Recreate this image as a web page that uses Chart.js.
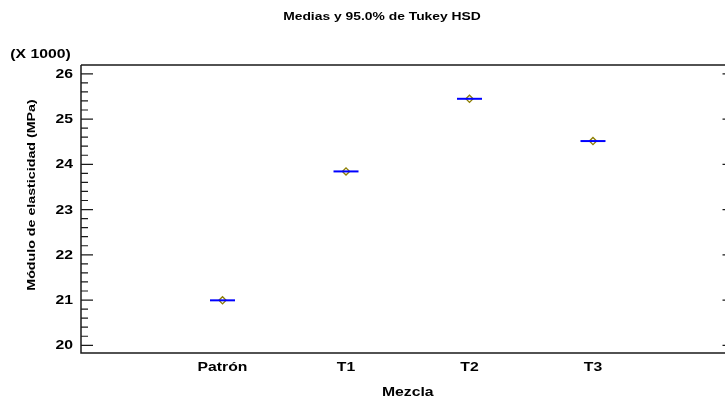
<!DOCTYPE html>
<html>
<head>
<meta charset="utf-8">
<script src="https://cdn.jsdelivr.net/npm/chart.js@4/dist/chart.umd.min.js"></script>
<style>
  html, body { margin: 0; padding: 0; background: #fff; overflow: hidden; }
  #wrap { width: 725px; height: 401px; }
</style>
</head>
<body>
<div id="wrap"><canvas id="graphCanvas" width="725" height="401"></canvas></div>
<script>
// Medias por mezcla (MPa) con intervalos HSD de Tukey al 95%
var mezclas = ['Patrón', 'T1', 'T2', 'T3'];
var medias = [20994, 23843, 25448, 24514];
var yTicks = [20000, 21000, 22000, 23000, 24000, 25000, 26000];

var FAMILIA = '"Liberation Sans", Arial, Helvetica, sans-serif';
var ANCHO = 1.26;   // letra ensanchada, como en el programa original

var puntos = mezclas.map(function (m, i) {
    return { x: i + 1, y: medias[i] };
});

// texto ensanchado horizontalmente (en su propia dirección)
function texto(ctx, s, x, y, size, align, base, rot) {
    ctx.save();
    ctx.translate(x, y);
    if (rot) ctx.rotate(rot);
    ctx.scale(ANCHO, 1);
    ctx.font = 'bold ' + size + 'px ' + FAMILIA;
    ctx.fillStyle = '#000';
    ctx.textAlign = align;
    ctx.textBaseline = base;
    ctx.fillText(s, 0, 0);
    ctx.restore();
}

// marco, marcas de eje y textos
var marco = {
    id: 'marco',
    afterDraw: function (chart) {
        var ctx = chart.ctx;
        var a = chart.chartArea;
        var xs = chart.scales.x;
        var ys = chart.scales.y;
        var right = xs.getPixelForValue(5.146);

        ctx.save();
        ctx.strokeStyle = '#1a1a1a';
        ctx.lineWidth = 1.5;
        ctx.beginPath();
        ctx.moveTo(a.left, a.top);
        ctx.lineTo(a.left, a.bottom);
        ctx.lineTo(a.right, a.bottom);
        ctx.moveTo(a.left, a.top);
        ctx.lineTo(a.right, a.top);
        ctx.stroke();

        ctx.lineWidth = 1.2;
        ctx.beginPath();
        for (var v = 20000; v <= 26000; v += 200) {
            var py = ys.getPixelForValue(v);
            var len = (v % 1000 === 0) ? 12 : 7;
            ctx.moveTo(a.left, py);
            ctx.lineTo(a.left + len, py);
            if (v % 1000 === 0) {
                ctx.moveTo(right - 12, py);
                ctx.lineTo(right, py);
            }
        }
        ctx.stroke();
        ctx.restore();

        // etiquetas de los ejes
        yTicks.forEach(function (v) {
            texto(ctx, String(v / 1000), 73, ys.getPixelForValue(v) + 0.5, 12.5, 'right', 'middle');
        });
        mezclas.forEach(function (m, i) {
            texto(ctx, m, xs.getPixelForValue(i + 1), 371, 12.5, 'center', 'alphabetic');
        });

        texto(ctx, 'Medias y 95.0% de Tukey HSD', 382, 20, 11, 'center', 'alphabetic');
        texto(ctx, '(X 1000)', 40.5, 58, 12.5, 'center', 'alphabetic');
        texto(ctx, 'Mezcla', xs.getPixelForValue(2.5), 396, 12.5, 'center', 'alphabetic');
        texto(ctx, 'Módulo de elasticidad (MPa)', 32, 195, 11.3, 'center', 'middle', -Math.PI / 2);
    }
};

var chartdata = {
    datasets: [
        {
            label: 'Intervalo',
            data: puntos,
            pointStyle: 'line',
            radius: 12.5,
            hoverRadius: 12.5,
            borderColor: '#0000ff',
            borderWidth: 2,
            showLine: false
        },
        {
            label: 'Media',
            data: puntos,
            pointStyle: 'rectRot',
            radius: 3.6,
            hoverRadius: 3.6,
            borderColor: '#8c7d00',
            backgroundColor: 'rgba(255,255,255,0)',
            borderWidth: 1.3,
            showLine: false
        }
    ]
};

var graphTarget = document.getElementById('graphCanvas');

var grafico = new Chart(graphTarget, {
    type: 'scatter',
    data: chartdata,
    options: {
        responsive: false,
        animation: false,
        events: [],
        layout: {
            autoPadding: false,
            padding: { top: 65, left: 0, right: 0, bottom: 0 }
        },
        plugins: {
            legend: { display: false },
            title: { display: false },
            tooltip: { enabled: false }
        },
        scales: {
            x: {
                type: 'linear',
                min: -0.146,
                max: 5.069,
                grid: { display: false, drawTicks: false },
                border: { display: false },
                ticks: { display: false },
                afterFit: function (s) {
                    s.height = 48;
                    s.paddingLeft = 0;
                    s.paddingRight = 0;
                }
            },
            y: {
                min: 19830,
                max: 26195,
                grid: { display: false, drawTicks: false },
                border: { display: false },
                ticks: { display: false },
                afterFit: function (s) {
                    s.width = 81;
                    s.paddingTop = 0;
                    s.paddingBottom = 0;
                }
            }
        }
    },
    plugins: [marco]
});
</script>
</body>
</html>
